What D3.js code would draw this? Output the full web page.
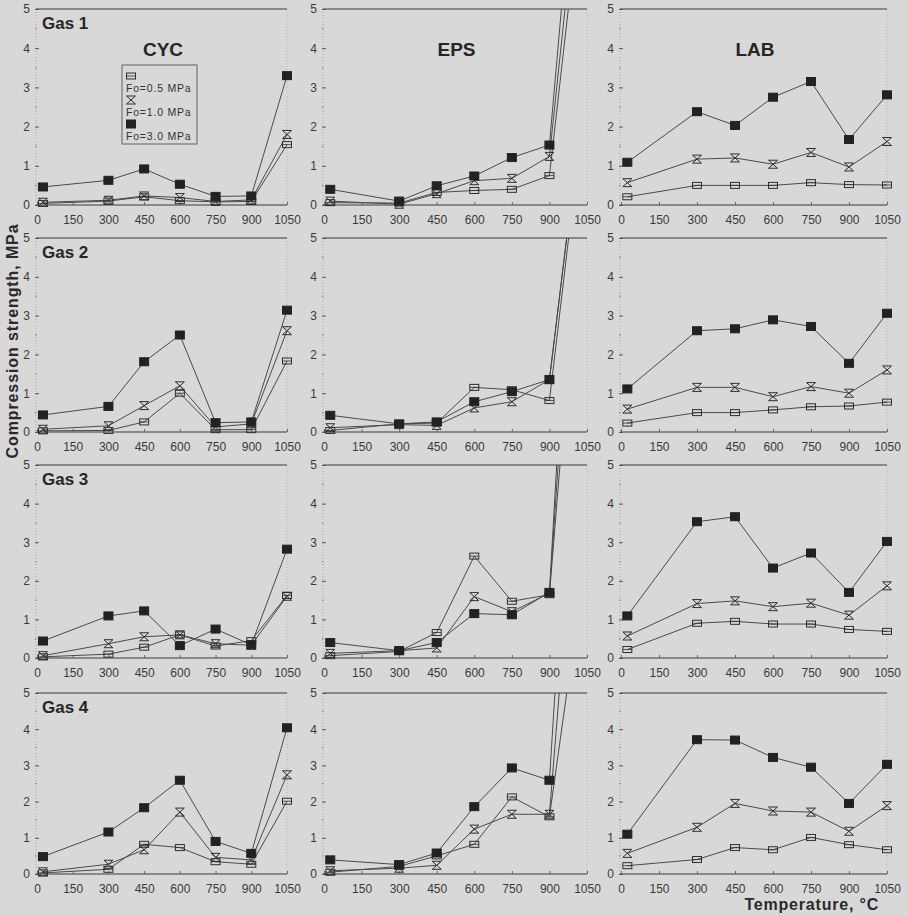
<!DOCTYPE html>
<html><head><meta charset="utf-8">
<script src="https://cdn.jsdelivr.net/npm/d3@7"></script>
<style>
html,body{margin:0;padding:0;background:#d8d8d8;}
svg{display:block;font-family:"Liberation Sans",Arial,sans-serif;}
</style></head><body>
<svg id="chart" width="908" height="916"></svg>
<script>
// ---------- data ----------
const temperatures = [25, 300, 450, 600, 750, 900, 1050];
const xTickValues = [0, 150, 300, 450, 600, 750, 900, 1050];
const yTickValues = [0, 1, 2, 3, 4, 5];
const gasNames = ["Gas 1", "Gas 2", "Gas 3", "Gas 4"];
const materialNames = ["CYC", "EPS", "LAB"];
const seriesNames = ["Fo=0.5 MPa", "Fo=1.0 MPa", "Fo=3.0 MPa"];

// each panel: [Fo=0.5, Fo=1.0, Fo=3.0] values at temperatures
const gas1CYC = [[0.04,0.10,0.21,0.11,0.08,0.09,1.54],[0.07,0.12,0.23,0.19,0.09,0.13,1.80],[0.46,0.63,0.92,0.53,0.22,0.23,3.30]];
const gas1EPS = [[0.06,0.05,0.32,0.37,0.40,0.75,9.2],[0.10,0.02,0.29,0.62,0.68,1.24,10.3],[0.40,0.10,0.49,0.74,1.21,1.53,12.4]];
const gas1LAB = [[0.21,0.50,0.50,0.50,0.57,0.52,0.51],[0.57,1.17,1.20,1.04,1.34,0.97,1.62],[1.09,2.38,2.03,2.75,3.15,1.67,2.81]];
const gas2CYC = [[0.03,0.04,0.26,1.00,0.06,0.06,1.83],[0.07,0.16,0.68,1.19,0.13,0.21,2.61],[0.44,0.66,1.81,2.50,0.24,0.26,3.14]];
const gas2EPS = [[0.04,0.21,0.23,1.15,1.09,0.81,9.0],[0.11,0.19,0.17,0.62,0.78,1.35,9.3],[0.43,0.21,0.26,0.78,1.04,1.35,9.3]];
const gas2LAB = [[0.23,0.50,0.50,0.57,0.65,0.67,0.77],[0.59,1.15,1.15,0.91,1.17,1.00,1.60],[1.11,2.61,2.66,2.89,2.72,1.77,3.06]];
const gas3CYC = [[0.03,0.10,0.28,0.60,0.31,0.45,1.62],[0.06,0.37,0.55,0.60,0.37,0.33,1.60],[0.44,1.09,1.22,0.32,0.75,0.34,2.82]];
const gas3EPS = [[0.06,0.17,0.66,2.64,1.47,1.64,13.6],[0.12,0.19,0.26,1.59,1.20,1.68,16.0],[0.40,0.19,0.40,1.15,1.12,1.70,18.8]];
const gas3LAB = [[0.22,0.90,0.95,0.88,0.88,0.74,0.69],[0.57,1.41,1.48,1.33,1.42,1.11,1.87],[1.09,3.53,3.66,2.33,2.72,1.70,3.02]];
const gas4CYC = [[0.03,0.13,0.82,0.73,0.34,0.27,2.01],[0.06,0.27,0.67,1.71,0.46,0.39,2.74],[0.48,1.16,1.83,2.59,0.90,0.57,4.04]];
const gas4EPS = [[0.05,0.21,0.50,0.82,2.13,1.58,9.0],[0.09,0.16,0.24,1.24,1.65,1.65,14.5],[0.39,0.26,0.58,1.86,2.93,2.59,19.0]];
const gas4LAB = [[0.23,0.40,0.73,0.67,1.01,0.81,0.67],[0.57,1.29,1.95,1.74,1.71,1.18,1.89],[1.10,3.71,3.70,3.22,2.95,1.95,3.03]];

const panelData = [
  [gas1CYC, gas1EPS, gas1LAB],
  [gas2CYC, gas2EPS, gas2LAB],
  [gas3CYC, gas3EPS, gas3LAB],
  [gas4CYC, gas4EPS, gas4LAB]
];

// ---------- layout ----------
const colX = [[37, 287], [324, 587], [621, 887]];
const rowY = [[9, 205], [238, 432], [465, 658], [693, 874]];
const ink = "#2e2e2e";
const lineCol = "#4a4a4a";

const svg = d3.select("#chart");
svg.append("rect").attr("width", 908).attr("height", 916).attr("fill", "#d8d8d8");
const defs = svg.append("defs");

function drawMarker(g, type) {
  if (type === 0) {
    g.append("rect").attr("x", -4.5).attr("y", -3).attr("width", 9).attr("height", 6)
      .attr("fill", "none").attr("stroke", ink).attr("stroke-width", 1);
    g.append("line").attr("x1", -4.5).attr("x2", 4.5).attr("y1", 0).attr("y2", 0)
      .attr("stroke", ink).attr("stroke-width", 0.8);
  } else if (type === 1) {
    g.append("path").attr("d", "M-4.5,-4 L4.5,-4 L-4.5,4 L4.5,4 Z")
      .attr("fill", "none").attr("stroke", ink).attr("stroke-width", 1);
  } else {
    g.append("rect").attr("x", -4.5).attr("y", -4).attr("width", 9).attr("height", 8)
      .attr("fill", "#222").attr("stroke", "#222");
  }
}

panelData.forEach((row, ri) => {
  row.forEach((panel, ci) => {
    const x = d3.scaleLinear().domain([0, 1050]).range(colX[ci]);
    const y = d3.scaleLinear().domain([0, 5]).range([rowY[ri][1], rowY[ri][0]]);
    const g = svg.append("g");
    const clipId = "clip" + ri + "_" + ci;
    defs.append("clipPath").attr("id", clipId).append("rect")
      .attr("x", x(0) - 12).attr("y", y(5)).attr("width", x(1050) - x(0) + 24).attr("height", y(0) - y(5) + 20);

    // frame
    g.append("line").attr("x1", x(0) - 1).attr("x2", x(0) - 1).attr("y1", y(5)).attr("y2", y(0))
      .attr("stroke", "#9a9a9a").attr("stroke-width", 0.8).attr("stroke-dasharray", "1,2");
    g.append("line").attr("x1", x(1050)).attr("x2", x(1050)).attr("y1", y(5)).attr("y2", y(0))
      .attr("stroke", "#ababab").attr("stroke-width", 0.8).attr("stroke-dasharray", "1,2");
    g.append("line").attr("x1", x(0) - 1).attr("x2", x(1050)).attr("y1", y(5)).attr("y2", y(5))
      .attr("stroke", "#3a3a3a").attr("stroke-width", 1.2);
    g.append("line").attr("x1", x(0) - 1).attr("x2", x(1050)).attr("y1", y(0)).attr("y2", y(0))
      .attr("stroke", "#3a3a3a").attr("stroke-width", 1.2);

    // y axis
    const ya = g.append("g").attr("transform", `translate(${x(0) - 1},0)`)
      .call(d3.axisLeft(y).tickValues(yTickValues).tickSize(3).tickPadding(3).tickFormat(d3.format("d")));
    ya.select(".domain").remove();
    ya.selectAll(".tick line").attr("stroke", "#555").attr("x2", 3).attr("x1", -1);
    ya.selectAll("text").attr("font-size", 12).attr("fill", "#3a3a3a").attr("font-family", "Liberation Sans, Arial, sans-serif");
    // minor dots
    g.selectAll(".minor").data(d3.range(0.5, 5, 1)).join("rect")
      .attr("x", x(0) - 2).attr("y", d => y(d) - 0.5).attr("width", 1.2).attr("height", 1.2).attr("fill", "#777");

    // x axis
    const xa = g.append("g").attr("transform", `translate(0,${y(0)})`)
      .call(d3.axisBottom(x).tickValues(xTickValues).tickSize(-3).tickPadding(10).tickFormat(d3.format("d")));
    xa.select(".domain").remove();
    xa.selectAll(".tick line").attr("stroke", "#666");
    xa.selectAll("text").attr("font-size", 12).attr("fill", "#3a3a3a").attr("font-family", "Liberation Sans, Arial, sans-serif");

    // series
    const pg = g.append("g").attr("clip-path", `url(#${clipId})`);
    const line = d3.line().x((d, i) => x(temperatures[i])).y(d => y(d));
    panel.forEach((vals, si) => {
      pg.append("path").attr("d", line(vals)).attr("fill", "none")
        .attr("stroke", lineCol).attr("stroke-width", 1);
    });
    panel.forEach((vals, si) => {
      vals.forEach((v, i) => {
        if (v <= 5) {
          const m = pg.append("g").attr("transform", `translate(${x(temperatures[i])},${y(v)})`);
          drawMarker(m, si);
        }
      });
    });

    // labels
    if (ci === 0) {
      g.append("text").attr("x", x(0) + 5).attr("y", y(5) + 20).text(gasNames[ri])
        .attr("font-size", 17).attr("font-weight", "bold").attr("fill", "#262626");
    }
    if (ri === 0) {
      g.append("text").attr("x", (x(0) + x(1050)) / 2 + 1).attr("y", y(5) + 47).attr("text-anchor", "middle")
        .text(materialNames[ci]).attr("font-size", 19).attr("font-weight", "bold").attr("fill", "#262626");
    }
    if (ri === 0 && ci === 0) {
      const lg = g.append("g");
      lg.append("rect").attr("x", 122).attr("y", 65).attr("width", 75).attr("height", 79)
        .attr("fill", "#d8d8d8").attr("stroke", "#555").attr("stroke-width", 0.9);
      seriesNames.forEach((s, si) => {
        const m = lg.append("g").attr("transform", `translate(${131},${76 + si * 24})`);
        drawMarker(m, si);
        lg.append("text").attr("x", 126).attr("y", 92 + si * 24).text(s)
          .attr("font-size", 10.5).attr("letter-spacing", 0.8).attr("fill", "#333");
      });
    }
  });
});

// axis titles
svg.append("text").attr("transform", "translate(18,341) rotate(-90)").attr("text-anchor", "middle")
  .text("Compression strength, MPa").attr("font-size", 16).attr("font-weight", "bold")
  .attr("letter-spacing", 0.9).attr("fill", "#2a2a2a");
svg.append("text").attr("x", 879).attr("y", 910).attr("text-anchor", "end")
  .text("Temperature, °C").attr("font-size", 16).attr("font-weight", "bold")
  .attr("letter-spacing", 0.8).attr("fill", "#2a2a2a");
</script>
</body></html>
